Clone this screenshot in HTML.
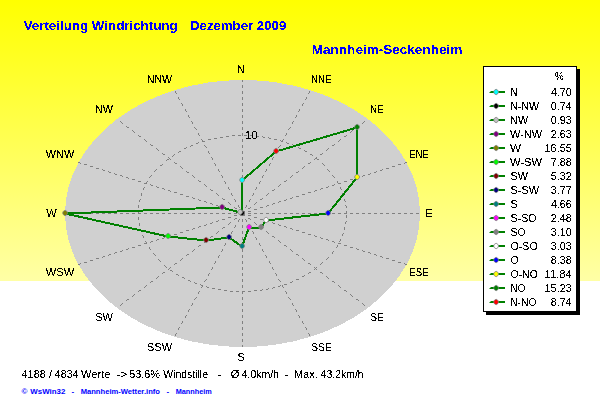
<!DOCTYPE html>
<html><head><meta charset="utf-8"><title>Verteilung Windrichtung</title>
<style>
html,body{margin:0;padding:0;background:#fff;}
body{width:600px;height:412px;overflow:hidden;position:relative;font-family:"Liberation Sans",sans-serif;}
#bg{position:absolute;left:0;top:0;width:600px;height:281px;background:linear-gradient(to bottom,#ffff00 0%,#ffffa6 100%);}
svg{position:absolute;left:0;top:0;}
text{font-family:"Liberation Sans",sans-serif;}
.l{font-size:11px;fill:#000;filter:url(#al);}
.t{font-size:13.5px;font-weight:bold;fill:#0000ff;filter:url(#al);}
.f{font-size:8px;font-weight:bold;fill:#0000ff;}
</style></head><body>
<div id="bg"></div>
<svg width="600" height="412" viewBox="0 0 600 412">
<defs><filter id="al" color-interpolation-filters="sRGB"><feComponentTransfer><feFuncA type="discrete" tableValues="0 0 0 0 0 0 0 0 0 0 0 1 1 1 1 1 1 1 1 1 1 1 1 1 1"/></feComponentTransfer></filter></defs>
<ellipse cx="242.5" cy="213.5" rx="177.5" ry="133.5" fill="#d0d0d0" shape-rendering="crispEdges"/>
<path fill="#808080" shape-rendering="crispEdges" d="M242 80h1v1h-1zM242 81h1v1h-1zM242 85h1v1h-1zM242 86h1v1h-1zM242 87h1v1h-1zM175 91h1v1h-1zM242 91h1v1h-1zM309 91h1v1h-1zM175 92h1v1h-1zM242 92h1v1h-1zM309 92h1v1h-1zM176 93h1v1h-1zM242 93h1v1h-1zM308 93h1v1h-1zM178 97h1v1h-1zM242 97h1v1h-1zM306 97h1v1h-1zM178 98h1v1h-1zM242 98h1v1h-1zM306 98h1v1h-1zM179 99h1v1h-1zM242 99h1v1h-1zM305 99h1v1h-1zM181 103h1v1h-1zM242 103h1v1h-1zM303 103h1v1h-1zM182 104h1v1h-1zM242 104h1v1h-1zM302 104h1v1h-1zM182 105h1v1h-1zM242 105h1v1h-1zM302 105h1v1h-1zM185 109h1v1h-1zM242 109h1v1h-1zM299 109h1v1h-1zM185 110h1v1h-1zM242 110h1v1h-1zM299 110h1v1h-1zM186 111h1v1h-1zM242 111h1v1h-1zM298 111h1v1h-1zM188 115h1v1h-1zM242 115h1v1h-1zM296 115h1v1h-1zM188 116h1v1h-1zM242 116h1v1h-1zM296 116h1v1h-1zM189 117h1v1h-1zM242 117h1v1h-1zM295 117h1v1h-1zM120 121h1v1h-1zM191 121h1v1h-1zM242 121h1v1h-1zM293 121h1v1h-1zM364 121h1v1h-1zM121 122h1v1h-1zM192 122h1v1h-1zM242 122h1v1h-1zM292 122h1v1h-1zM363 122h1v1h-1zM122 123h1v1h-1zM192 123h1v1h-1zM242 123h1v1h-1zM292 123h1v1h-1zM362 123h1v1h-1zM126 126h1v1h-1zM358 126h1v1h-1zM127 127h2v1h-2zM194 127h1v1h-1zM242 127h1v1h-1zM290 127h1v1h-1zM356 127h2v1h-2zM195 128h1v1h-1zM242 128h1v1h-1zM289 128h1v1h-1zM196 129h1v1h-1zM242 129h1v1h-1zM288 129h1v1h-1zM132 130h1v1h-1zM352 130h1v1h-1zM133 131h1v1h-1zM351 131h1v1h-1zM134 132h1v1h-1zM350 132h1v1h-1zM198 133h1v1h-1zM242 133h1v1h-1zM286 133h1v1h-1zM198 134h1v1h-1zM242 134h1v1h-1zM286 134h1v1h-1zM138 135h1v1h-1zM199 135h1v1h-1zM232 135h3v1h-3zM238 135h3v1h-3zM242 135h1v1h-1zM244 135h3v1h-3zM250 135h3v1h-3zM285 135h1v1h-1zM346 135h1v1h-1zM139 136h2v1h-2zM226 136h3v1h-3zM256 136h3v1h-3zM262 136h1v1h-1zM344 136h2v1h-2zM220 137h3v1h-3zM263 137h2v1h-2zM268 137h1v1h-1zM214 138h3v1h-3zM269 138h2v1h-2zM144 139h1v1h-1zM201 139h1v1h-1zM208 139h3v1h-3zM242 139h1v1h-1zM274 139h3v1h-3zM283 139h1v1h-1zM340 139h1v1h-1zM145 140h1v1h-1zM202 140h1v1h-1zM242 140h1v1h-1zM280 140h1v1h-1zM282 140h1v1h-1zM339 140h1v1h-1zM146 141h1v1h-1zM202 141h3v1h-3zM242 141h1v1h-1zM281 141h2v1h-2zM338 141h1v1h-1zM198 142h1v1h-1zM286 142h1v1h-1zM196 143h2v1h-2zM287 143h2v1h-2zM150 144h1v1h-1zM292 144h1v1h-1zM334 144h1v1h-1zM151 145h2v1h-2zM191 145h2v1h-2zM204 145h1v1h-1zM242 145h1v1h-1zM280 145h1v1h-1zM293 145h2v1h-2zM332 145h2v1h-2zM190 146h1v1h-1zM205 146h1v1h-1zM242 146h1v1h-1zM279 146h1v1h-1zM186 147h1v1h-1zM206 147h1v1h-1zM242 147h1v1h-1zM278 147h1v1h-1zM298 147h1v1h-1zM156 148h1v1h-1zM184 148h2v1h-2zM299 148h2v1h-2zM328 148h1v1h-1zM157 149h1v1h-1zM327 149h1v1h-1zM158 150h1v1h-1zM304 150h1v1h-1zM326 150h1v1h-1zM179 151h2v1h-2zM208 151h1v1h-1zM242 151h1v1h-1zM276 151h1v1h-1zM305 151h2v1h-2zM178 152h1v1h-1zM208 152h1v1h-1zM242 152h1v1h-1zM276 152h1v1h-1zM162 153h1v1h-1zM209 153h1v1h-1zM242 153h1v1h-1zM275 153h1v1h-1zM322 153h1v1h-1zM163 154h2v1h-2zM174 154h1v1h-1zM310 154h2v1h-2zM320 154h2v1h-2zM173 155h1v1h-1zM312 155h1v1h-1zM172 156h1v1h-1zM168 157h1v1h-1zM211 157h1v1h-1zM242 157h1v1h-1zM273 157h1v1h-1zM316 157h1v1h-1zM169 158h1v1h-1zM212 158h1v1h-1zM242 158h1v1h-1zM272 158h1v1h-1zM315 158h2v1h-2zM167 159h2v1h-2zM170 159h1v1h-1zM212 159h1v1h-1zM242 159h1v1h-1zM272 159h1v1h-1zM314 159h1v1h-1zM317 159h2v1h-2zM166 160h1v1h-1zM78 162h2v1h-2zM174 162h1v1h-1zM310 162h1v1h-1zM405 162h2v1h-2zM80 163h1v1h-1zM175 163h2v1h-2zM214 163h1v1h-1zM242 163h1v1h-1zM270 163h1v1h-1zM308 163h2v1h-2zM322 163h1v1h-1zM404 163h1v1h-1zM84 164h3v1h-3zM162 164h1v1h-1zM215 164h1v1h-1zM242 164h1v1h-1zM269 164h1v1h-1zM323 164h1v1h-1zM398 164h3v1h-3zM160 165h2v1h-2zM215 165h1v1h-1zM242 165h1v1h-1zM269 165h1v1h-1zM324 165h1v1h-1zM90 166h3v1h-3zM180 166h1v1h-1zM304 166h1v1h-1zM392 166h3v1h-3zM181 167h1v1h-1zM303 167h1v1h-1zM96 168h3v1h-3zM182 168h1v1h-1zM302 168h1v1h-1zM386 168h3v1h-3zM102 169h1v1h-1zM156 169h1v1h-1zM218 169h1v1h-1zM242 169h1v1h-1zM266 169h1v1h-1zM327 169h1v1h-1zM382 169h1v1h-1zM103 170h2v1h-2zM155 170h1v1h-1zM218 170h1v1h-1zM242 170h1v1h-1zM266 170h1v1h-1zM328 170h1v1h-1zM380 170h2v1h-2zM108 171h1v1h-1zM154 171h1v1h-1zM186 171h1v1h-1zM219 171h1v1h-1zM242 171h1v1h-1zM265 171h1v1h-1zM298 171h1v1h-1zM329 171h1v1h-1zM376 171h1v1h-1zM109 172h2v1h-2zM187 172h2v1h-2zM296 172h2v1h-2zM374 172h2v1h-2zM114 173h1v1h-1zM370 173h1v1h-1zM115 174h2v1h-2zM368 174h2v1h-2zM120 175h2v1h-2zM151 175h1v1h-1zM192 175h1v1h-1zM221 175h1v1h-1zM242 175h1v1h-1zM263 175h1v1h-1zM292 175h1v1h-1zM332 175h1v1h-1zM363 175h2v1h-2zM122 176h1v1h-1zM150 176h1v1h-1zM193 176h1v1h-1zM222 176h1v1h-1zM242 176h1v1h-1zM262 176h1v1h-1zM291 176h1v1h-1zM333 176h1v1h-1zM362 176h1v1h-1zM126 177h2v1h-2zM149 177h1v1h-1zM194 177h1v1h-1zM222 177h1v1h-1zM242 177h1v1h-1zM262 177h1v1h-1zM290 177h1v1h-1zM334 177h1v1h-1zM357 177h2v1h-2zM128 178h1v1h-1zM356 178h1v1h-1zM132 179h3v1h-3zM350 179h3v1h-3zM198 180h1v1h-1zM286 180h1v1h-1zM138 181h3v1h-3zM147 181h1v1h-1zM199 181h2v1h-2zM224 181h1v1h-1zM242 181h1v1h-1zM260 181h1v1h-1zM284 181h2v1h-2zM337 181h1v1h-1zM344 181h3v1h-3zM146 182h1v1h-1zM225 182h1v1h-1zM242 182h1v1h-1zM259 182h1v1h-1zM337 182h1v1h-1zM144 183h3v1h-3zM225 183h1v1h-1zM242 183h1v1h-1zM259 183h1v1h-1zM338 183h3v1h-3zM150 184h1v1h-1zM204 184h1v1h-1zM280 184h1v1h-1zM334 184h1v1h-1zM151 185h2v1h-2zM205 185h1v1h-1zM279 185h1v1h-1zM332 185h2v1h-2zM156 186h1v1h-1zM206 186h1v1h-1zM278 186h1v1h-1zM328 186h1v1h-1zM144 187h1v1h-1zM157 187h2v1h-2zM228 187h1v1h-1zM242 187h1v1h-1zM256 187h1v1h-1zM326 187h2v1h-2zM340 187h1v1h-1zM143 188h1v1h-1zM162 188h2v1h-2zM228 188h1v1h-1zM242 188h1v1h-1zM256 188h1v1h-1zM321 188h2v1h-2zM340 188h1v1h-1zM143 189h1v1h-1zM164 189h1v1h-1zM210 189h1v1h-1zM229 189h1v1h-1zM242 189h1v1h-1zM255 189h1v1h-1zM274 189h1v1h-1zM320 189h1v1h-1zM341 189h1v1h-1zM168 190h2v1h-2zM211 190h2v1h-2zM272 190h2v1h-2zM315 190h2v1h-2zM170 191h1v1h-1zM314 191h1v1h-1zM174 192h3v1h-3zM308 192h3v1h-3zM141 193h1v1h-1zM216 193h1v1h-1zM231 193h1v1h-1zM242 193h1v1h-1zM253 193h1v1h-1zM268 193h1v1h-1zM342 193h1v1h-1zM141 194h1v1h-1zM180 194h3v1h-3zM217 194h1v1h-1zM231 194h1v1h-1zM242 194h1v1h-1zM253 194h1v1h-1zM267 194h1v1h-1zM302 194h3v1h-3zM343 194h1v1h-1zM141 195h1v1h-1zM218 195h1v1h-1zM232 195h1v1h-1zM242 195h1v1h-1zM252 195h1v1h-1zM266 195h1v1h-1zM343 195h1v1h-1zM186 196h3v1h-3zM296 196h3v1h-3zM192 197h1v1h-1zM292 197h1v1h-1zM193 198h2v1h-2zM222 198h1v1h-1zM262 198h1v1h-1zM290 198h2v1h-2zM140 199h1v1h-1zM198 199h1v1h-1zM223 199h2v1h-2zM234 199h1v1h-1zM242 199h1v1h-1zM250 199h1v1h-1zM260 199h2v1h-2zM286 199h1v1h-1zM344 199h1v1h-1zM139 200h1v1h-1zM199 200h2v1h-2zM235 200h1v1h-1zM242 200h1v1h-1zM249 200h1v1h-1zM284 200h2v1h-2zM344 200h1v1h-1zM139 201h1v1h-1zM204 201h2v1h-2zM235 201h1v1h-1zM242 201h1v1h-1zM249 201h1v1h-1zM279 201h2v1h-2zM345 201h1v1h-1zM206 202h1v1h-1zM228 202h1v1h-1zM256 202h1v1h-1zM278 202h1v1h-1zM210 203h2v1h-2zM229 203h1v1h-1zM255 203h1v1h-1zM273 203h2v1h-2zM212 204h1v1h-1zM230 204h1v1h-1zM254 204h1v1h-1zM272 204h1v1h-1zM138 205h1v1h-1zM216 205h2v1h-2zM238 205h1v1h-1zM242 205h1v1h-1zM246 205h1v1h-1zM267 205h2v1h-2zM345 205h1v1h-1zM138 206h1v1h-1zM218 206h1v1h-1zM238 206h1v1h-1zM242 206h1v1h-1zM246 206h1v1h-1zM266 206h1v1h-1zM346 206h1v1h-1zM138 207h1v1h-1zM222 207h3v1h-3zM234 207h1v1h-1zM239 207h1v1h-1zM242 207h1v1h-1zM245 207h1v1h-1zM250 207h1v1h-1zM260 207h3v1h-3zM346 207h1v1h-1zM235 208h2v1h-2zM248 208h2v1h-2zM228 209h3v1h-3zM254 209h3v1h-3zM138 211h1v1h-1zM234 211h3v1h-3zM240 211h5v1h-5zM248 211h3v1h-3zM346 211h1v1h-1zM138 212h1v1h-1zM240 212h5v1h-5zM346 212h1v1h-1zM66 213h3v1h-3zM72 213h3v1h-3zM78 213h3v1h-3zM84 213h3v1h-3zM90 213h3v1h-3zM96 213h3v1h-3zM102 213h3v1h-3zM108 213h3v1h-3zM114 213h3v1h-3zM120 213h3v1h-3zM126 213h3v1h-3zM132 213h3v1h-3zM138 213h3v1h-3zM144 213h3v1h-3zM150 213h3v1h-3zM156 213h3v1h-3zM162 213h3v1h-3zM168 213h3v1h-3zM174 213h3v1h-3zM180 213h3v1h-3zM186 213h3v1h-3zM192 213h3v1h-3zM198 213h3v1h-3zM204 213h3v1h-3zM210 213h3v1h-3zM216 213h3v1h-3zM222 213h3v1h-3zM228 213h3v1h-3zM234 213h3v1h-3zM240 213h5v1h-5zM248 213h3v1h-3zM254 213h3v1h-3zM260 213h3v1h-3zM266 213h3v1h-3zM272 213h3v1h-3zM278 213h3v1h-3zM284 213h3v1h-3zM290 213h3v1h-3zM296 213h3v1h-3zM302 213h3v1h-3zM308 213h3v1h-3zM314 213h3v1h-3zM320 213h3v1h-3zM326 213h3v1h-3zM332 213h3v1h-3zM338 213h3v1h-3zM344 213h3v1h-3zM350 213h3v1h-3zM356 213h3v1h-3zM362 213h3v1h-3zM368 213h3v1h-3zM374 213h3v1h-3zM380 213h3v1h-3zM386 213h3v1h-3zM392 213h3v1h-3zM398 213h3v1h-3zM404 213h3v1h-3zM410 213h3v1h-3zM416 213h3v1h-3zM240 214h5v1h-5zM234 215h3v1h-3zM240 215h5v1h-5zM248 215h3v1h-3zM346 215h1v1h-1zM346 216h1v1h-1zM138 217h1v1h-1zM228 217h3v1h-3zM254 217h3v1h-3zM346 217h1v1h-1zM138 218h1v1h-1zM235 218h2v1h-2zM248 218h2v1h-2zM138 219h1v1h-1zM222 219h3v1h-3zM234 219h1v1h-1zM239 219h1v1h-1zM242 219h1v1h-1zM245 219h1v1h-1zM250 219h1v1h-1zM260 219h3v1h-3zM218 220h1v1h-1zM238 220h1v1h-1zM242 220h1v1h-1zM246 220h1v1h-1zM266 220h1v1h-1zM216 221h2v1h-2zM238 221h1v1h-1zM242 221h1v1h-1zM246 221h1v1h-1zM267 221h2v1h-2zM346 221h1v1h-1zM212 222h1v1h-1zM230 222h1v1h-1zM254 222h1v1h-1zM272 222h1v1h-1zM345 222h1v1h-1zM139 223h1v1h-1zM210 223h2v1h-2zM229 223h1v1h-1zM255 223h1v1h-1zM273 223h2v1h-2zM345 223h1v1h-1zM139 224h1v1h-1zM206 224h1v1h-1zM228 224h1v1h-1zM256 224h1v1h-1zM278 224h1v1h-1zM139 225h1v1h-1zM204 225h2v1h-2zM235 225h1v1h-1zM242 225h1v1h-1zM249 225h1v1h-1zM279 225h2v1h-2zM199 226h2v1h-2zM235 226h1v1h-1zM242 226h1v1h-1zM249 226h1v1h-1zM284 226h2v1h-2zM198 227h1v1h-1zM223 227h2v1h-2zM234 227h1v1h-1zM242 227h1v1h-1zM250 227h1v1h-1zM260 227h2v1h-2zM286 227h1v1h-1zM344 227h1v1h-1zM193 228h2v1h-2zM222 228h1v1h-1zM262 228h1v1h-1zM290 228h2v1h-2zM344 228h1v1h-1zM140 229h1v1h-1zM192 229h1v1h-1zM292 229h1v1h-1zM344 229h1v1h-1zM141 230h1v1h-1zM186 230h3v1h-3zM296 230h3v1h-3zM141 231h1v1h-1zM218 231h1v1h-1zM232 231h1v1h-1zM242 231h1v1h-1zM252 231h1v1h-1zM266 231h1v1h-1zM180 232h3v1h-3zM217 232h1v1h-1zM231 232h1v1h-1zM242 232h1v1h-1zM253 232h1v1h-1zM267 232h1v1h-1zM302 232h3v1h-3zM216 233h1v1h-1zM231 233h1v1h-1zM242 233h1v1h-1zM253 233h1v1h-1zM268 233h1v1h-1zM343 233h1v1h-1zM174 234h3v1h-3zM308 234h3v1h-3zM342 234h1v1h-1zM142 235h1v1h-1zM170 235h1v1h-1zM314 235h1v1h-1zM342 235h1v1h-1zM143 236h1v1h-1zM168 236h2v1h-2zM211 236h2v1h-2zM272 236h2v1h-2zM315 236h2v1h-2zM143 237h1v1h-1zM164 237h1v1h-1zM210 237h1v1h-1zM229 237h1v1h-1zM242 237h1v1h-1zM255 237h1v1h-1zM274 237h1v1h-1zM320 237h1v1h-1zM162 238h2v1h-2zM228 238h1v1h-1zM242 238h1v1h-1zM256 238h1v1h-1zM321 238h2v1h-2zM157 239h2v1h-2zM228 239h1v1h-1zM242 239h1v1h-1zM256 239h1v1h-1zM326 239h2v1h-2zM340 239h1v1h-1zM156 240h1v1h-1zM206 240h1v1h-1zM278 240h1v1h-1zM328 240h1v1h-1zM340 240h1v1h-1zM145 241h1v1h-1zM151 241h2v1h-2zM205 241h1v1h-1zM279 241h1v1h-1zM332 241h2v1h-2zM339 241h1v1h-1zM146 242h1v1h-1zM150 242h1v1h-1zM204 242h1v1h-1zM280 242h1v1h-1zM334 242h1v1h-1zM144 243h3v1h-3zM225 243h1v1h-1zM242 243h1v1h-1zM259 243h1v1h-1zM338 243h3v1h-3zM225 244h1v1h-1zM242 244h1v1h-1zM259 244h1v1h-1zM138 245h3v1h-3zM199 245h2v1h-2zM224 245h1v1h-1zM242 245h1v1h-1zM260 245h1v1h-1zM284 245h2v1h-2zM337 245h1v1h-1zM344 245h3v1h-3zM198 246h1v1h-1zM286 246h1v1h-1zM337 246h1v1h-1zM132 247h3v1h-3zM149 247h1v1h-1zM336 247h1v1h-1zM350 247h3v1h-3zM128 248h1v1h-1zM149 248h1v1h-1zM356 248h1v1h-1zM126 249h2v1h-2zM150 249h1v1h-1zM194 249h1v1h-1zM222 249h1v1h-1zM242 249h1v1h-1zM262 249h1v1h-1zM290 249h1v1h-1zM357 249h2v1h-2zM122 250h1v1h-1zM193 250h1v1h-1zM222 250h1v1h-1zM242 250h1v1h-1zM262 250h1v1h-1zM291 250h1v1h-1zM362 250h1v1h-1zM120 251h2v1h-2zM192 251h1v1h-1zM221 251h1v1h-1zM242 251h1v1h-1zM263 251h1v1h-1zM292 251h1v1h-1zM333 251h1v1h-1zM363 251h2v1h-2zM115 252h2v1h-2zM332 252h1v1h-1zM368 252h2v1h-2zM114 253h1v1h-1zM153 253h1v1h-1zM332 253h1v1h-1zM370 253h1v1h-1zM109 254h2v1h-2zM154 254h1v1h-1zM187 254h2v1h-2zM296 254h2v1h-2zM374 254h2v1h-2zM108 255h1v1h-1zM155 255h1v1h-1zM186 255h1v1h-1zM219 255h1v1h-1zM242 255h1v1h-1zM265 255h1v1h-1zM298 255h1v1h-1zM376 255h1v1h-1zM103 256h2v1h-2zM218 256h1v1h-1zM242 256h1v1h-1zM266 256h1v1h-1zM380 256h2v1h-2zM102 257h1v1h-1zM218 257h1v1h-1zM242 257h1v1h-1zM266 257h1v1h-1zM328 257h1v1h-1zM382 257h1v1h-1zM96 258h3v1h-3zM182 258h1v1h-1zM302 258h1v1h-1zM327 258h1v1h-1zM386 258h3v1h-3zM158 259h1v1h-1zM181 259h1v1h-1zM303 259h1v1h-1zM326 259h1v1h-1zM90 260h3v1h-3zM159 260h1v1h-1zM180 260h1v1h-1zM304 260h1v1h-1zM392 260h3v1h-3zM160 261h1v1h-1zM215 261h1v1h-1zM242 261h1v1h-1zM269 261h1v1h-1zM84 262h3v1h-3zM215 262h1v1h-1zM242 262h1v1h-1zM269 262h1v1h-1zM322 262h1v1h-1zM398 262h3v1h-3zM80 263h1v1h-1zM175 263h2v1h-2zM214 263h1v1h-1zM242 263h1v1h-1zM270 263h1v1h-1zM308 263h2v1h-2zM321 263h1v1h-1zM404 263h1v1h-1zM78 264h2v1h-2zM174 264h1v1h-1zM310 264h1v1h-1zM320 264h1v1h-1zM405 264h2v1h-2zM164 265h1v1h-1zM165 266h1v1h-1zM166 267h1v1h-1zM170 267h1v1h-1zM212 267h1v1h-1zM242 267h1v1h-1zM272 267h1v1h-1zM314 267h1v1h-1zM316 267h1v1h-1zM169 268h1v1h-1zM212 268h1v1h-1zM242 268h1v1h-1zM272 268h1v1h-1zM315 268h1v1h-1zM168 269h1v1h-1zM211 269h1v1h-1zM242 269h1v1h-1zM273 269h1v1h-1zM314 269h1v1h-1zM316 269h1v1h-1zM170 270h2v1h-2zM172 271h1v1h-1zM163 272h2v1h-2zM309 272h2v1h-2zM320 272h2v1h-2zM162 273h1v1h-1zM209 273h1v1h-1zM242 273h1v1h-1zM275 273h1v1h-1zM308 273h1v1h-1zM322 273h1v1h-1zM176 274h2v1h-2zM208 274h1v1h-1zM242 274h1v1h-1zM276 274h1v1h-1zM178 275h1v1h-1zM208 275h1v1h-1zM242 275h1v1h-1zM276 275h1v1h-1zM304 275h1v1h-1zM158 276h1v1h-1zM302 276h2v1h-2zM326 276h1v1h-1zM157 277h1v1h-1zM182 277h2v1h-2zM327 277h1v1h-1zM156 278h1v1h-1zM184 278h1v1h-1zM328 278h1v1h-1zM206 279h1v1h-1zM242 279h1v1h-1zM278 279h1v1h-1zM296 279h3v1h-3zM188 280h2v1h-2zM205 280h1v1h-1zM242 280h1v1h-1zM279 280h1v1h-1zM151 281h2v1h-2zM190 281h1v1h-1zM204 281h1v1h-1zM242 281h1v1h-1zM280 281h1v1h-1zM292 281h1v1h-1zM332 281h2v1h-2zM150 282h1v1h-1zM194 282h1v1h-1zM290 282h2v1h-2zM334 282h1v1h-1zM195 283h2v1h-2zM200 284h1v1h-1zM284 284h3v1h-3zM146 285h1v1h-1zM201 285h2v1h-2zM242 285h1v1h-1zM280 285h1v1h-1zM282 285h1v1h-1zM338 285h1v1h-1zM145 286h1v1h-1zM202 286h1v1h-1zM206 286h1v1h-1zM242 286h1v1h-1zM278 286h2v1h-2zM282 286h1v1h-1zM339 286h1v1h-1zM144 287h1v1h-1zM201 287h1v1h-1zM207 287h2v1h-2zM242 287h1v1h-1zM273 287h2v1h-2zM283 287h1v1h-1zM340 287h1v1h-1zM212 288h3v1h-3zM268 288h1v1h-1zM272 288h1v1h-1zM218 289h3v1h-3zM262 289h1v1h-1zM266 289h2v1h-2zM139 290h2v1h-2zM224 290h3v1h-3zM254 290h3v1h-3zM260 290h2v1h-2zM344 290h2v1h-2zM138 291h1v1h-1zM199 291h1v1h-1zM230 291h3v1h-3zM236 291h3v1h-3zM242 291h3v1h-3zM248 291h3v1h-3zM285 291h1v1h-1zM346 291h1v1h-1zM198 292h1v1h-1zM242 292h1v1h-1zM286 292h1v1h-1zM198 293h1v1h-1zM242 293h1v1h-1zM286 293h1v1h-1zM134 294h1v1h-1zM350 294h1v1h-1zM133 295h1v1h-1zM351 295h1v1h-1zM132 296h1v1h-1zM352 296h1v1h-1zM196 297h1v1h-1zM242 297h1v1h-1zM288 297h1v1h-1zM195 298h1v1h-1zM242 298h1v1h-1zM289 298h1v1h-1zM127 299h2v1h-2zM194 299h1v1h-1zM242 299h1v1h-1zM290 299h1v1h-1zM356 299h2v1h-2zM126 300h1v1h-1zM358 300h1v1h-1zM122 303h1v1h-1zM192 303h1v1h-1zM242 303h1v1h-1zM292 303h1v1h-1zM362 303h1v1h-1zM121 304h1v1h-1zM192 304h1v1h-1zM242 304h1v1h-1zM292 304h1v1h-1zM363 304h1v1h-1zM120 305h1v1h-1zM191 305h1v1h-1zM242 305h1v1h-1zM293 305h1v1h-1zM364 305h1v1h-1zM189 309h1v1h-1zM242 309h1v1h-1zM295 309h1v1h-1zM188 310h1v1h-1zM242 310h1v1h-1zM296 310h1v1h-1zM188 311h1v1h-1zM242 311h1v1h-1zM296 311h1v1h-1zM186 315h1v1h-1zM242 315h1v1h-1zM298 315h1v1h-1zM185 316h1v1h-1zM242 316h1v1h-1zM299 316h1v1h-1zM185 317h1v1h-1zM242 317h1v1h-1zM299 317h1v1h-1zM182 321h1v1h-1zM242 321h1v1h-1zM302 321h1v1h-1zM182 322h1v1h-1zM242 322h1v1h-1zM302 322h1v1h-1zM181 323h1v1h-1zM242 323h1v1h-1zM303 323h1v1h-1zM179 327h1v1h-1zM242 327h1v1h-1zM305 327h1v1h-1zM178 328h1v1h-1zM242 328h1v1h-1zM306 328h1v1h-1zM178 329h1v1h-1zM242 329h1v1h-1zM306 329h1v1h-1zM176 333h1v1h-1zM242 333h1v1h-1zM308 333h1v1h-1zM175 334h1v1h-1zM242 334h1v1h-1zM309 334h1v1h-1zM175 335h1v1h-1zM242 335h1v1h-1zM309 335h1v1h-1zM242 339h1v1h-1zM242 340h1v1h-1zM242 341h1v1h-1zM242 345h1v1h-1zM242 346h1v1h-1z"/>
<text class="l" x="244.87" y="139" textLength="12.88" lengthAdjust="spacingAndGlyphs">10</text>
<polygon points="242,180.5 242,213.5 240,212.5 222,207.5 65,213.5 168,236.5 206,240.5 229,237.5 242,246.5 249,227.5 261,227.5 266,220.5 328,213.5 357,177.5 357,127.5 276,151.5" fill="none" stroke="#008000" stroke-width="2" stroke-linejoin="round" shape-rendering="crispEdges"/>
<path fill="#00ffff" stroke="#808080" stroke-width="0.8" d="M242.1 177.2l1.8 1.2l0.7 1.6l-0.7 1.6l-1.8 1.2l-1.8 -1.2l-0.7 -1.6l0.7 -1.6z"/>
<path fill="#000000" stroke="#808080" stroke-width="0.8" d="M242.1 210.2l1.8 1.2l0.7 1.6l-0.7 1.6l-1.8 1.2l-1.8 -1.2l-0.7 -1.6l0.7 -1.6z"/>
<path fill="#c0c0c0" stroke="#808080" stroke-width="0.8" d="M240.1 209.2l1.8 1.2l0.7 1.6l-0.7 1.6l-1.8 1.2l-1.8 -1.2l-0.7 -1.6l0.7 -1.6z"/>
<path fill="#800080" stroke="#808080" stroke-width="0.8" d="M222.1 204.2l1.8 1.2l0.7 1.6l-0.7 1.6l-1.8 1.2l-1.8 -1.2l-0.7 -1.6l0.7 -1.6z"/>
<path fill="#808000" stroke="#808080" stroke-width="0.8" d="M65.1 210.2l1.8 1.2l0.7 1.6l-0.7 1.6l-1.8 1.2l-1.8 -1.2l-0.7 -1.6l0.7 -1.6z"/>
<path fill="#00ff00" stroke="#808080" stroke-width="0.8" d="M168.1 233.2l1.8 1.2l0.7 1.6l-0.7 1.6l-1.8 1.2l-1.8 -1.2l-0.7 -1.6l0.7 -1.6z"/>
<path fill="#800000" stroke="#808080" stroke-width="0.8" d="M206.1 237.2l1.8 1.2l0.7 1.6l-0.7 1.6l-1.8 1.2l-1.8 -1.2l-0.7 -1.6l0.7 -1.6z"/>
<path fill="#000080" stroke="#808080" stroke-width="0.8" d="M229.1 234.2l1.8 1.2l0.7 1.6l-0.7 1.6l-1.8 1.2l-1.8 -1.2l-0.7 -1.6l0.7 -1.6z"/>
<path fill="#008080" stroke="#808080" stroke-width="0.8" d="M242.1 243.2l1.8 1.2l0.7 1.6l-0.7 1.6l-1.8 1.2l-1.8 -1.2l-0.7 -1.6l0.7 -1.6z"/>
<path fill="#ff00ff" stroke="#808080" stroke-width="0.8" d="M249.1 224.2l1.8 1.2l0.7 1.6l-0.7 1.6l-1.8 1.2l-1.8 -1.2l-0.7 -1.6l0.7 -1.6z"/>
<path fill="#808080" stroke="#808080" stroke-width="0.8" d="M261.1 224.2l1.8 1.2l0.7 1.6l-0.7 1.6l-1.8 1.2l-1.8 -1.2l-0.7 -1.6l0.7 -1.6z"/>
<path fill="#ffffff" stroke="#808080" stroke-width="0.8" d="M266.1 217.2l1.8 1.2l0.7 1.6l-0.7 1.6l-1.8 1.2l-1.8 -1.2l-0.7 -1.6l0.7 -1.6z"/>
<path fill="#0000ff" stroke="#808080" stroke-width="0.8" d="M328.1 210.2l1.8 1.2l0.7 1.6l-0.7 1.6l-1.8 1.2l-1.8 -1.2l-0.7 -1.6l0.7 -1.6z"/>
<path fill="#ffff00" stroke="#808080" stroke-width="0.8" d="M357.1 174.2l1.8 1.2l0.7 1.6l-0.7 1.6l-1.8 1.2l-1.8 -1.2l-0.7 -1.6l0.7 -1.6z"/>
<path fill="#008000" stroke="#808080" stroke-width="0.8" d="M357.1 124.2l1.8 1.2l0.7 1.6l-0.7 1.6l-1.8 1.2l-1.8 -1.2l-0.7 -1.6l0.7 -1.6z"/>
<path fill="#ff0000" stroke="#808080" stroke-width="0.8" d="M276.1 148.2l1.8 1.2l0.7 1.6l-0.7 1.6l-1.8 1.2l-1.8 -1.2l-0.7 -1.6l0.7 -1.6z"/>
<text class="l" x="237.07" y="73">N</text>
<text class="l" x="310.9" y="83" textLength="20.73" lengthAdjust="spacingAndGlyphs">NNE</text>
<text class="l" x="369.88" y="112.6" textLength="13.85" lengthAdjust="spacingAndGlyphs">NE</text>
<text class="l" x="409.23" y="157.7" textLength="19.27" lengthAdjust="spacingAndGlyphs">ENE</text>
<text class="l" x="425.41" y="216.8">E</text>
<text class="l" x="409.21" y="275.8" textLength="19.31" lengthAdjust="spacingAndGlyphs">ESE</text>
<text class="l" x="370.24" y="320.9" textLength="13.49" lengthAdjust="spacingAndGlyphs">SE</text>
<text class="l" x="311.24" y="351.1" textLength="20.4" lengthAdjust="spacingAndGlyphs">SSE</text>
<text class="l" x="237.38" y="361">S</text>
<text class="l" x="147.1" y="351.1" textLength="25.04" lengthAdjust="spacingAndGlyphs">SSW</text>
<text class="l" x="95.3" y="320.9" textLength="17.63" lengthAdjust="spacingAndGlyphs">SW</text>
<text class="l" x="45.85" y="275.8" textLength="28.39" lengthAdjust="spacingAndGlyphs">WSW</text>
<text class="l" x="46.3" y="216.6">W</text>
<text class="l" x="45.85" y="157.7" textLength="28.38" lengthAdjust="spacingAndGlyphs">WNW</text>
<text class="l" x="94.91" y="112.6" textLength="18.02" lengthAdjust="spacingAndGlyphs">NW</text>
<text class="l" x="146.73" y="83" textLength="25.41" lengthAdjust="spacingAndGlyphs">NNW</text>
<text class="t" x="23.66" y="29.8" textLength="153.98" lengthAdjust="spacingAndGlyphs">Verteilung Windrichtung</text>
<text class="t" x="190.02" y="29.8" textLength="96.22" lengthAdjust="spacingAndGlyphs">Dezember 2009</text>
<text class="t" x="311.79" y="53.8" textLength="150.44" lengthAdjust="spacingAndGlyphs">Mannheim-Seckenheim</text>
<rect x="486" y="69" width="94" height="246" fill="#000"/>
<rect x="483.5" y="66.5" width="93" height="245" fill="#fff" stroke="#000" stroke-width="1"/>
<text class="l" x="554.64" y="79.5" textLength="8.91" lengthAdjust="spacingAndGlyphs">%</text>
<path fill="#008000" d="M489 93l2 -2h14v2z"/>
<path fill="#00ffff" stroke="#808080" stroke-width="0.8" d="M496.1 89.2l1.8 1.2l0.7 1.6l-0.7 1.6l-1.8 1.2l-1.8 -1.2l-0.7 -1.6l0.7 -1.6z"/>
<text class="l" x="510.13" y="96" textLength="7.63" lengthAdjust="spacingAndGlyphs">N</text>
<text class="l" x="550.96" y="96" textLength="20.76" lengthAdjust="spacingAndGlyphs">4.70</text>
<path fill="#008000" d="M489 107l2 -2h14v2z"/>
<path fill="#000000" stroke="#808080" stroke-width="0.8" d="M496.1 103.2l1.8 1.2l0.7 1.6l-0.7 1.6l-1.8 1.2l-1.8 -1.2l-0.7 -1.6l0.7 -1.6z"/>
<text class="l" x="510.13" y="110" textLength="29.01" lengthAdjust="spacingAndGlyphs">N-NW</text>
<text class="l" x="550.78" y="110" textLength="20.83" lengthAdjust="spacingAndGlyphs">0.74</text>
<path fill="#008000" d="M489 121l2 -2h14v2z"/>
<path fill="#c0c0c0" stroke="#808080" stroke-width="0.8" d="M496.1 117.2l1.8 1.2l0.7 1.6l-0.7 1.6l-1.8 1.2l-1.8 -1.2l-0.7 -1.6l0.7 -1.6z"/>
<text class="l" x="510.12" y="124" textLength="17.92" lengthAdjust="spacingAndGlyphs">NW</text>
<text class="l" x="550.78" y="124" textLength="20.99" lengthAdjust="spacingAndGlyphs">0.93</text>
<path fill="#008000" d="M489 135l2 -2h14v2z"/>
<path fill="#800080" stroke="#808080" stroke-width="0.8" d="M496.1 131.2l1.8 1.2l0.7 1.6l-0.7 1.6l-1.8 1.2l-1.8 -1.2l-0.7 -1.6l0.7 -1.6z"/>
<text class="l" x="510.05" y="138" textLength="32.09" lengthAdjust="spacingAndGlyphs">W-NW</text>
<text class="l" x="550.65" y="138" textLength="21.12" lengthAdjust="spacingAndGlyphs">2.63</text>
<path fill="#008000" d="M489 149l2 -2h14v2z"/>
<path fill="#808000" stroke="#808080" stroke-width="0.8" d="M496.1 145.2l1.8 1.2l0.7 1.6l-0.7 1.6l-1.8 1.2l-1.8 -1.2l-0.7 -1.6l0.7 -1.6z"/>
<text class="l" x="510.05" y="152" textLength="10.99" lengthAdjust="spacingAndGlyphs">W</text>
<text class="l" x="544.57" y="152" textLength="27.18" lengthAdjust="spacingAndGlyphs">16.55</text>
<path fill="#008000" d="M489 163l2 -2h14v2z"/>
<path fill="#00ff00" stroke="#808080" stroke-width="0.8" d="M496.1 159.2l1.8 1.2l0.7 1.6l-0.7 1.6l-1.8 1.2l-1.8 -1.2l-0.7 -1.6l0.7 -1.6z"/>
<text class="l" x="510.05" y="166" textLength="32.09" lengthAdjust="spacingAndGlyphs">W-SW</text>
<text class="l" x="550.64" y="166" textLength="21.13" lengthAdjust="spacingAndGlyphs">7.88</text>
<path fill="#008000" d="M489 177l2 -2h14v2z"/>
<path fill="#800000" stroke="#808080" stroke-width="0.8" d="M496.1 173.2l1.8 1.2l0.7 1.6l-0.7 1.6l-1.8 1.2l-1.8 -1.2l-0.7 -1.6l0.7 -1.6z"/>
<text class="l" x="510.51" y="180" textLength="17.53" lengthAdjust="spacingAndGlyphs">SW</text>
<text class="l" x="550.77" y="180" textLength="21.08" lengthAdjust="spacingAndGlyphs">5.32</text>
<path fill="#008000" d="M489 191l2 -2h14v2z"/>
<path fill="#000080" stroke="#808080" stroke-width="0.8" d="M496.1 187.2l1.8 1.2l0.7 1.6l-0.7 1.6l-1.8 1.2l-1.8 -1.2l-0.7 -1.6l0.7 -1.6z"/>
<text class="l" x="510.5" y="194" textLength="28.64" lengthAdjust="spacingAndGlyphs">S-SW</text>
<text class="l" x="550.79" y="194" textLength="21.06" lengthAdjust="spacingAndGlyphs">3.77</text>
<path fill="#008000" d="M489 205l2 -2h14v2z"/>
<path fill="#008080" stroke="#808080" stroke-width="0.8" d="M496.1 201.2l1.8 1.2l0.7 1.6l-0.7 1.6l-1.8 1.2l-1.8 -1.2l-0.7 -1.6l0.7 -1.6z"/>
<text class="l" x="510.51" y="208" textLength="7.18" lengthAdjust="spacingAndGlyphs">S</text>
<text class="l" x="550.95" y="208" textLength="20.81" lengthAdjust="spacingAndGlyphs">4.66</text>
<path fill="#008000" d="M489 219l2 -2h14v2z"/>
<path fill="#ff00ff" stroke="#808080" stroke-width="0.8" d="M496.1 215.2l1.8 1.2l0.7 1.6l-0.7 1.6l-1.8 1.2l-1.8 -1.2l-0.7 -1.6l0.7 -1.6z"/>
<text class="l" x="510.51" y="222" textLength="26.2" lengthAdjust="spacingAndGlyphs">S-SO</text>
<text class="l" x="550.65" y="222" textLength="21.12" lengthAdjust="spacingAndGlyphs">2.48</text>
<path fill="#008000" d="M489 233l2 -2h14v2z"/>
<path fill="#808080" stroke="#808080" stroke-width="0.8" d="M496.1 229.2l1.8 1.2l0.7 1.6l-0.7 1.6l-1.8 1.2l-1.8 -1.2l-0.7 -1.6l0.7 -1.6z"/>
<text class="l" x="510.53" y="236" textLength="14.97" lengthAdjust="spacingAndGlyphs">SO</text>
<text class="l" x="550.79" y="236" textLength="20.93" lengthAdjust="spacingAndGlyphs">3.10</text>
<path fill="#008000" d="M489 247l2 -2h14v2z"/>
<path fill="#ffffff" stroke="#808080" stroke-width="0.8" d="M496.1 243.2l1.8 1.2l0.7 1.6l-0.7 1.6l-1.8 1.2l-1.8 -1.2l-0.7 -1.6l0.7 -1.6z"/>
<text class="l" x="510.49" y="250" textLength="27.32" lengthAdjust="spacingAndGlyphs">O-SO</text>
<text class="l" x="550.79" y="250" textLength="20.98" lengthAdjust="spacingAndGlyphs">3.03</text>
<path fill="#008000" d="M489 261l2 -2h14v2z"/>
<path fill="#0000ff" stroke="#808080" stroke-width="0.8" d="M496.1 257.2l1.8 1.2l0.7 1.6l-0.7 1.6l-1.8 1.2l-1.8 -1.2l-0.7 -1.6l0.7 -1.6z"/>
<text class="l" x="510.5" y="264" textLength="8.2" lengthAdjust="spacingAndGlyphs">O</text>
<text class="l" x="550.73" y="264" textLength="21.04" lengthAdjust="spacingAndGlyphs">8.38</text>
<path fill="#008000" d="M489 275l2 -2h14v2z"/>
<path fill="#ffff00" stroke="#808080" stroke-width="0.8" d="M496.1 271.2l1.8 1.2l0.7 1.6l-0.7 1.6l-1.8 1.2l-1.8 -1.2l-0.7 -1.6l0.7 -1.6z"/>
<text class="l" x="510.51" y="278" textLength="27.29" lengthAdjust="spacingAndGlyphs">O-NO</text>
<text class="l" x="544.55" y="278" textLength="27.08" lengthAdjust="spacingAndGlyphs">11.84</text>
<path fill="#008000" d="M489 289l2 -2h14v2z"/>
<path fill="#008000" stroke="#808080" stroke-width="0.8" d="M496.1 285.2l1.8 1.2l0.7 1.6l-0.7 1.6l-1.8 1.2l-1.8 -1.2l-0.7 -1.6l0.7 -1.6z"/>
<text class="l" x="510.16" y="292" textLength="15.33" lengthAdjust="spacingAndGlyphs">NO</text>
<text class="l" x="544.57" y="292" textLength="27.21" lengthAdjust="spacingAndGlyphs">15.23</text>
<path fill="#008000" d="M489 303l2 -2h14v2z"/>
<path fill="#ff0000" stroke="#808080" stroke-width="0.8" d="M496.1 299.2l1.8 1.2l0.7 1.6l-0.7 1.6l-1.8 1.2l-1.8 -1.2l-0.7 -1.6l0.7 -1.6z"/>
<text class="l" x="510.16" y="306" textLength="26.23" lengthAdjust="spacingAndGlyphs">N-NO</text>
<text class="l" x="550.73" y="306" textLength="20.88" lengthAdjust="spacingAndGlyphs">8.74</text>
<text class="l" x="21.42" y="377.8" textLength="24.56" lengthAdjust="spacingAndGlyphs">4188</text>
<text class="l" x="48.88" y="377.8">/</text>
<text class="l" x="54.75" y="377.8" textLength="23.89" lengthAdjust="spacingAndGlyphs">4834</text>
<text class="l" x="81.12" y="377.8" textLength="29.37" lengthAdjust="spacingAndGlyphs">Werte</text>
<text class="l" x="116.48" y="377.8" textLength="10.76" lengthAdjust="spacingAndGlyphs">-&gt;</text>
<text class="l" x="129.23" y="377.8" textLength="30.82" lengthAdjust="spacingAndGlyphs">53.6%</text>
<text class="l" x="163.28" y="377.8" textLength="44.68" lengthAdjust="spacingAndGlyphs">Windstille</text>
<text class="l" x="217.75" y="377.8">-</text>
<text class="l" x="230.71" y="377.8">Ø</text>
<text class="l" x="241.76" y="377.8" textLength="37.25" lengthAdjust="spacingAndGlyphs">4.0km/h</text>
<text class="l" x="284.5" y="377.8">-</text>
<text class="l" x="294.11" y="377.8" textLength="23.55" lengthAdjust="spacingAndGlyphs">Max.</text>
<text class="l" x="320.59" y="377.8" textLength="43.09" lengthAdjust="spacingAndGlyphs">43.2km/h</text>
<text class="f" x="21.54" y="393.7">©</text>
<text class="f" x="30.32" y="393.7" textLength="34.99" lengthAdjust="spacingAndGlyphs">WsWin32</text>
<text class="f" x="71.59" y="393.7">-</text>
<text class="f" x="80.66" y="393.7" textLength="79.31" lengthAdjust="spacingAndGlyphs">Mannheim-Wetter.info</text>
<text class="f" x="166.59" y="393.7">-</text>
<text class="f" x="175.68" y="393.7" textLength="36.1" lengthAdjust="spacingAndGlyphs">Mannheim</text>
</svg>
</body></html>
